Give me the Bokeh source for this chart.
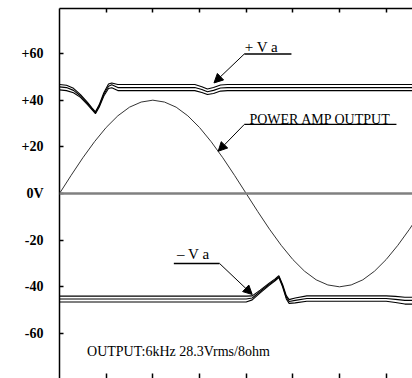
from bokeh.plotting import figure
from bokeh.models import (Range1d, LinearAxis, FixedTicker, Label, Arrow,
                          NormalHead, Span, CustomJSTickFormatter)
from bokeh.embed import file_html
from bokeh.resources import INLINE

# ---- data (x in horizontal divisions, y in volts) ----
sine_x = [0, 0.25, 0.5, 0.75, 1, 1.25, 1.5, 1.75, 2, 2.25, 2.5, 2.75, 3, 3.25, 3.5, 3.75,
          4, 4.25, 4.5, 4.75, 5, 5.25, 5.5, 5.75, 6, 6.25, 6.5, 6.75, 7, 7.25, 7.5, 7.75]
sine_v = [0, 7.8, 15.3, 22.2, 28.3, 33.3, 37.0, 39.2, 40.0, 39.2, 37.0, 33.3, 28.3, 22.2, 15.3, 7.8,
          0, -7.8, -15.3, -22.2, -28.3, -33.3, -37.0, -39.2, -40.0, -39.2, -37.0, -33.3, -28.3, -22.2, -15.3, -7.8]

vpos_x = [0, 0.15, 0.3, 0.45, 0.6, 0.7, 0.77, 0.85, 0.95, 1.05, 1.12, 1.25, 1.5,
          2.9, 3.05, 3.17, 3.3, 3.45, 3.6, 7.6]
vpos_hi = [46.7, 46.4, 45.1, 42.4, 39.1, 36.6, 35.0, 38.0, 43.2, 46.9, 47.4, 46.7, 46.7,
           46.7, 45.8, 44.8, 45.4, 46.5, 46.7, 46.7]
vpos_mid = [45.7, 45.4, 44.2, 41.8, 38.6, 36.2, 34.6, 37.5, 42.5, 46.0, 46.6, 45.4, 45.4,
            45.4, 44.6, 43.6, 44.2, 45.2, 45.4, 45.4]
vpos_lo = [44.4, 44.1, 43.2, 41.2, 38.1, 35.8, 34.2, 37.0, 41.8, 45.0, 45.3, 44.1, 44.1,
           44.1, 43.3, 42.4, 42.9, 43.9, 44.1, 44.1]

vneg_x = [0, 4.0, 4.13, 4.3, 4.5, 4.62, 4.70, 4.78, 4.86, 4.92, 5.05, 5.3, 5.6,
          7.0, 7.2, 7.4, 7.6]
vneg_hi = [-44.0, -44.0, -43.9, -41.4, -38.3, -36.6, -35.2, -39.0, -43.8, -45.5, -44.8, -43.9, -43.9,
           -43.9, -44.1, -44.5, -44.5]
vneg_mid = [-45.2, -45.2, -44.8, -42.0, -38.8, -37.0, -35.6, -39.5, -44.5, -46.3, -45.8, -45.0, -45.0,
            -45.0, -45.4, -45.8, -45.8]
vneg_lo = [-46.5, -46.5, -45.6, -42.6, -39.3, -37.4, -36.0, -40.0, -45.2, -47.1, -46.9, -46.2, -46.2,
           -46.2, -46.7, -47.4, -47.4]

y_ticks = [-60, -40, -20, 0, 20, 40, 60]
y_tick_labels = ["-60", "-40", "-20", "0V", "+20", "+40", "+60"]
x_ticks = [1, 2, 3, 4, 5, 6, 7]

# ---- figure ----
p = figure(width=412, height=378, output_backend="svg", toolbar_location=None,
           x_range=Range1d(0, 7.564), y_range=Range1d(-79.3, 79.3),
           x_axis_location=None, y_axis_location=None,
           min_border_left=59, min_border_right=0, min_border_top=8, min_border_bottom=0)
p.outline_line_color = None
p.xgrid.visible = False
p.ygrid.visible = False
p.background_fill_color = "white"

serif = "Liberation Serif"
blank = CustomJSTickFormatter(code="return ''")

# left axis
ly = LinearAxis(ticker=FixedTicker(ticks=y_ticks))
ly.major_label_overrides = {t: s for t, s in zip(y_ticks, y_tick_labels)}
ly.major_tick_in = 4
ly.major_tick_out = 0
ly.minor_tick_in = 0
ly.minor_tick_out = 0
ly.major_label_standoff = 16
ly.major_label_text_font = serif
ly.major_label_text_font_style = "bold"
ly.major_label_text_font_size = "14px"
ly.major_label_text_color = "black"
ly.axis_line_width = 1.5
ly.axis_line_color = "black"
ly.major_tick_line_width = 1.5
p.add_layout(ly, "left")

# top axis (ticks only)
tx = LinearAxis(ticker=FixedTicker(ticks=x_ticks), formatter=blank)
tx.major_tick_in = 4
tx.major_tick_out = 0
tx.minor_tick_in = 0
tx.minor_tick_out = 0
tx.major_label_standoff = 0
tx.axis_line_width = 1.5
tx.major_tick_line_width = 1.5
p.add_layout(tx, "above")

# bottom axis (ticks only)
bx = LinearAxis(ticker=FixedTicker(ticks=x_ticks), formatter=blank)
bx.major_tick_in = 5
bx.major_tick_out = 0
bx.minor_tick_in = 0
bx.minor_tick_out = 0
bx.major_label_standoff = 0
bx.axis_line_color = None
bx.major_tick_line_width = 1.5
p.add_layout(bx, "below")

# zero line
p.add_layout(Span(location=0, dimension="width", line_color="#808080", line_width=2.5))

# traces
p.line(sine_x, sine_v, line_color="#333333", line_width=1)
for ys in (vpos_hi, vpos_mid, vpos_lo):
    p.line(vpos_x, ys, line_color="black", line_width=1.1)
for ys in (vneg_hi, vneg_mid, vneg_lo):
    p.line(vneg_x, ys, line_color="black", line_width=1.1)

# annotations
def callout(text, tx_, ty_, ux0, ux1, uy, ax1, ay1, size="14px"):
    p.add_layout(Label(x=tx_, y=ty_, text=text, text_font=serif, text_font_size=size,
                       text_color="black", text_baseline="alphabetic"))
    p.segment(x0=[ux0], y0=[uy], x1=[ux1], y1=[uy], line_color="black", line_width=1.3)
    p.add_layout(Arrow(end=NormalHead(size=9, fill_color="black", line_color="black"),
                       x_start=ux0, y_start=uy, x_end=ax1, y_end=ay1,
                       line_color="black", line_width=1))

callout("+ V a", 3.97, 62.6, 3.96, 4.97, 59.8, 3.31, 47.4, size="15px")
callout("POWER AMP OUTPUT", 4.07, 31.7, 3.96, 7.22, 29.6, 3.40, 18.1)
callout("– V a", 2.52, -26.1, 3.43, 2.45, -30.0, 4.13, -43.3, size="15px")

p.add_layout(Label(x=0.59, y=-71.0, text="OUTPUT:6kHz 28.3Vrms/8ohm", text_font=serif,
                   text_font_size="14px", text_color="black"))

open("out.html", "w").write(file_html(p, INLINE))
